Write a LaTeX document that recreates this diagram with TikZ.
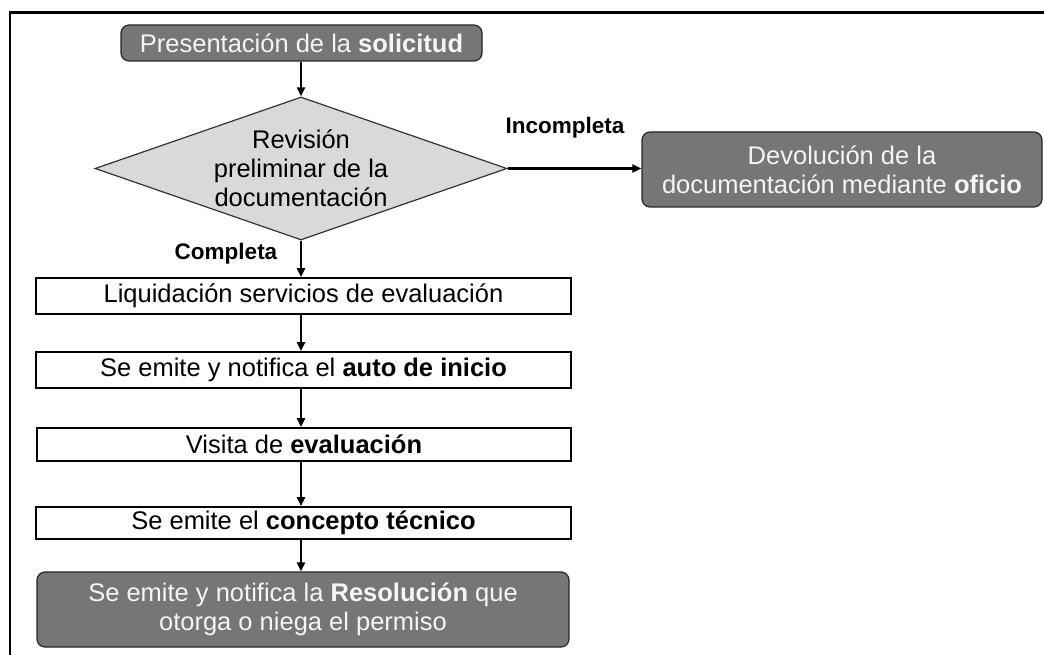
\documentclass[tikz,border=0pt]{standalone}
\usepackage{fontspec}
\setmainfont{Liberation Sans}
\usetikzlibrary{arrows.meta,shapes.geometric}
\definecolor{darkbox}{RGB}{118,118,118}
\definecolor{lightdia}{RGB}{217,217,217}
\definecolor{softwhite}{RGB}{245,245,245}
\begin{document}
\begin{tikzpicture}[x=1pt,y=-1pt,
  txt/.style={font=\fontsize{25.5}{29}\selectfont},
  darkstep/.style={draw=black!85,line width=1.2pt,fill=darkbox,rounded corners=8pt,
    text=softwhite,txt,align=center,inner sep=0pt},
  whitestep/.style={draw=black,line width=1.6pt,fill=white,txt,align=center,inner sep=0pt},
  flow/.style={line width=2.3pt,-{Triangle[length=9pt,width=8pt]}},
  lbl/.style={font=\fontsize{22.5}{26}\selectfont\bfseries,inner sep=0pt}]
\useasboundingbox (0,0) rectangle (1044,655);
% frame
\draw[line width=3pt] (9,13) -- (1044,13);
\draw[line width=1.8pt] (10,12) -- (10,655);
% nodes
\node[darkstep,minimum width=361pt,minimum height=36pt] (pres) at (301.5,43) {Presentación de la \textbf{solicitud}};
\node[diamond,draw=black!80,line width=1.2pt,fill=lightdia,minimum width=412pt,minimum height=143pt,inner sep=0pt,aspect=2.88] (rev) at (301,168.5) {};
\node[txt,align=center,inner sep=0pt] (revt) at (301,168) {Revisión\\preliminar de la\\documentación};
\node[darkstep,minimum width=400pt,minimum height=75pt] (dev) at (842,169.5) {Devolución de la\\documentación mediante \textbf{oficio}};
\node[whitestep,minimum width=535pt,minimum height=36pt] (liq) at (303.5,296) {Liquidación servicios de evaluación};
\node[whitestep,minimum width=535pt,minimum height=36pt] (auto) at (303.5,370) {Se emite y notifica el \textbf{auto de inicio}};
\node[whitestep,minimum width=534pt,minimum height=33pt] (vis) at (304,444.5) {Visita de \textbf{evaluación}};
\node[whitestep,minimum width=535pt,minimum height=32pt] (con) at (303.5,523) {Se emite el \textbf{concepto técnico}};
\node[darkstep,minimum width=532pt,minimum height=75pt] (res) at (303,609.5) {Se emite y notifica la \textbf{Resolución} que\\otorga o niega el permiso};
% labels
\node[lbl] (linc) at (565,128) {Incompleta};
\node[lbl] (lcom) at (226,254) {Completa};
% connectors
\draw[flow] (pres.south -| rev.north) -- (rev.north);
\draw[flow] (rev.east) -- (dev.west |- rev.east);
\draw[flow] (rev.south) -- (liq.north -| rev.south);
\draw[flow] (liq.south -| rev.south) -- (auto.north -| rev.south);
\draw[flow] (auto.south -| rev.south) -- (vis.north -| rev.south);
\draw[flow] (vis.south -| rev.south) -- (con.north -| rev.south);
\draw[flow] (con.south -| rev.south) -- (res.north -| rev.south);
\end{tikzpicture}
\end{document}
